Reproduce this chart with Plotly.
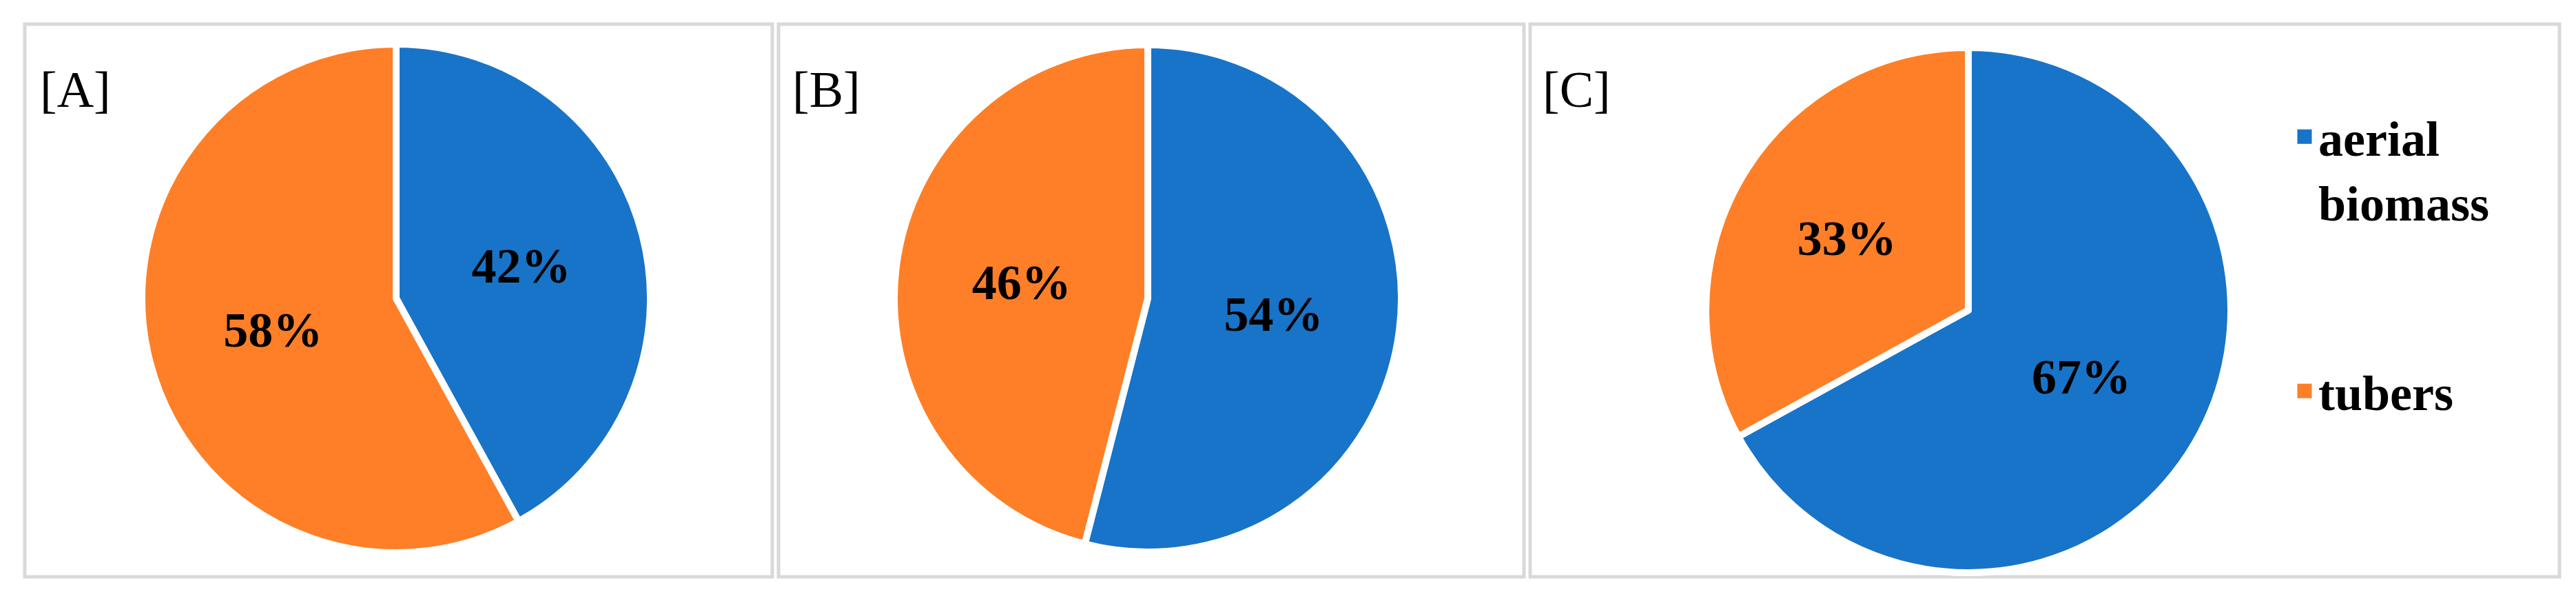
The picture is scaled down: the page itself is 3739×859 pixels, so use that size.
import plotly.graph_objects as go

# ---------------- data ----------------
categories = ["aerial biomass", "tubers"]
legend_labels = ["aerial<br>biomass", "tubers"]
panel_names = ["[A]", "[B]", "[C]"]
values_A = [42, 58]
values_B = [54, 46]
values_C = [67, 33]

# ---------------- styling / layout ----------------
W, H = 3739, 859
colors = ["#1874C8", "#FE7F27"]
frame_color = "#D9D9D9"
FONT = "Liberation Serif, Times New Roman, serif"

def px_x(v):
    return v / W

def px_y(v):  # from top in pixels -> paper fraction
    return 1 - v / H

# pie centers / radii in pixels (layout)
pie_geom = [
    (567, 425, 369),
    (1658, 425, 368),
    (2849, 442, 381),
]
frames = [(28, 1113), (1122, 2204), (2213, 3707)]
frame_top, frame_bot = 27, 829
title_x = [48, 1140, 2229]

fig = go.Figure()

for vals, (cx, cy, r), name in zip([values_A, values_B, values_C], pie_geom, panel_names):
    fig.add_trace(go.Pie(
        labels=categories,
        values=vals,
        sort=False,
        direction="clockwise",
        rotation=0,
        marker=dict(colors=colors, line=dict(color="white", width=10)),
        textinfo="percent",
        texttemplate="%{percent:.0%}",
        textposition="inside",
        insidetextorientation="horizontal",
        insidetextfont=dict(family=FONT, size=72, color="black", weight="bold"),
        showlegend=False,
        domain=dict(x=[px_x(cx - r), px_x(cx + r)], y=[px_y(cy + r), px_y(cy - r)]),
        name=name,
        hoverinfo="label+percent",
    ))

# legend entries (dummy traces so each entry can be placed like the original)
for i, (lab, col) in enumerate(zip(legend_labels, colors)):
    fig.add_trace(go.Scatter(
        x=[None], y=[None], mode="markers",
        marker=dict(symbol="square", size=16, color=col, line=dict(color=col, width=5)),
        name=lab,
        legend="legend" if i == 0 else "legend2",
        showlegend=True,
        hoverinfo="skip",
    ))

shapes = []
for x0, x1 in frames:
    shapes.append(dict(type="rect", xref="paper", yref="paper",
                       x0=px_x(x0), x1=px_x(x1), y0=px_y(frame_bot), y1=px_y(frame_top),
                       line=dict(color=frame_color, width=5), fillcolor="rgba(0,0,0,0)",
                       layer="below"))

annotations = []
for name, tx in zip(panel_names, title_x):
    annotations.append(dict(text=name, xref="paper", yref="paper",
                            x=px_x(tx), y=px_y(79), xanchor="left", yanchor="top",
                            showarrow=False,
                            font=dict(family=FONT, size=74, color="black")))

legend_font = dict(family=FONT, size=72, color="black", weight="bold")
fig.update_layout(
    width=W, height=H,
    margin=dict(l=0, r=0, t=0, b=0),
    paper_bgcolor="white", plot_bgcolor="white",
    xaxis=dict(visible=False), yaxis=dict(visible=False),
    shapes=shapes,
    annotations=annotations,
    legend=dict(x=px_x(3317), y=px_y(137), xanchor="left", yanchor="top",
                font=legend_font, valign="top", bgcolor="rgba(0,0,0,0)",
                itemsizing="trace"),
    legend2=dict(x=px_x(3317), y=px_y(506), xanchor="left", yanchor="top",
                 font=legend_font, valign="top", bgcolor="rgba(0,0,0,0)",
                 itemsizing="trace"),
)

fig.write_html("out.html")
